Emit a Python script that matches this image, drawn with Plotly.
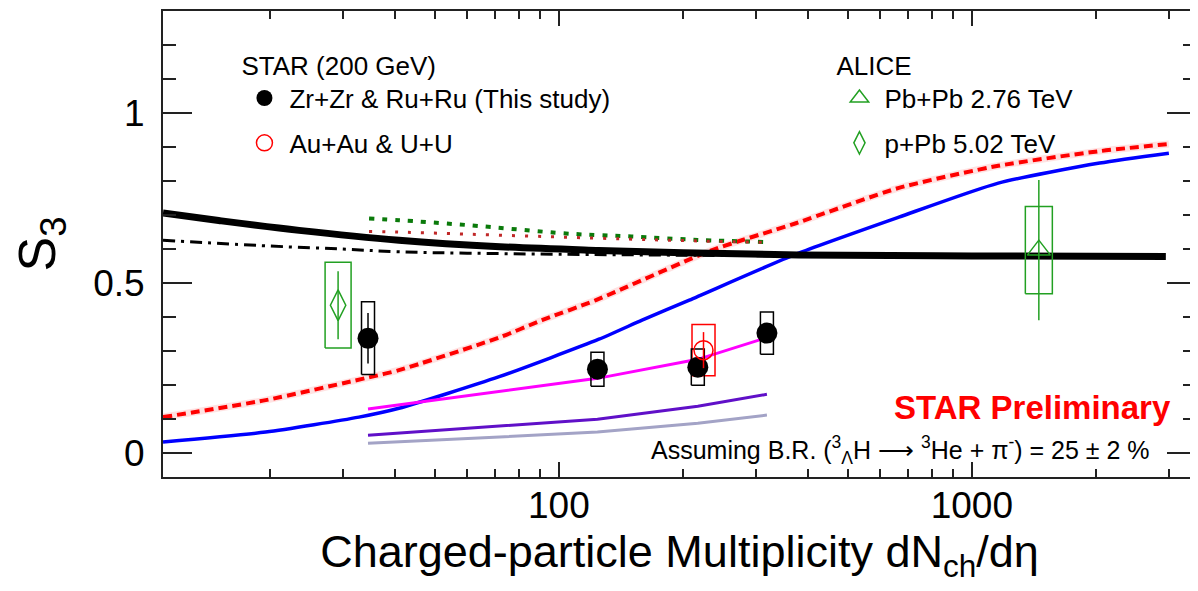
import numpy as np
import plotly.graph_objects as go

# ---------------- data ----------------
# STAR Zr+Zr & Ru+Ru (this study)
zr_x = [34.5, 124, 217, 319]
zr_y = [0.338, 0.247, 0.253, 0.353]
zr_stat = [0.074, 0.02, 0.02, 0.02]
zr_sys = [0.107, 0.050, 0.053, 0.062]

# STAR Au+Au & U+U
au_x = [224]
au_y = [0.303]
au_stat = [0.053]
au_sys = [0.075]

# ALICE Pb+Pb 2.76 TeV
pb_x = [1453]
pb_y = [0.597]
pb_stat = [0.206]
pb_sys = [0.128]

# ALICE p+Pb 5.02 TeV
ppb_x = [29.2]
ppb_y = [0.435]
ppb_stat = [0.100]
ppb_sys = [0.126]

# model curves
thick_x = [11, 15, 23.5, 41, 72, 125, 200, 381, 1000, 2950]
thick_y = [0.706, 0.684, 0.655, 0.626, 0.607, 0.596, 0.589, 0.583, 0.580, 0.578]

dashdot_x = [11, 20, 30, 41, 60, 100, 200, 400]
dashdot_y = [0.626, 0.609, 0.600, 0.592, 0.588, 0.585, 0.582, 0.580]

green_x = [34.7, 41, 59.5, 104, 125, 150, 217, 317]
green_y = [0.690, 0.685, 0.671, 0.646, 0.641, 0.637, 0.627, 0.621]

reddot_x = [34.7, 41, 125, 217, 317]
reddot_y = [0.652, 0.650, 0.632, 0.624, 0.620]

reddash_x = [11, 19.5, 34.7, 41, 71.7, 91, 123, 235, 375, 666, 1159, 2040, 3000]
reddash_y = [0.106, 0.156, 0.223, 0.244, 0.340, 0.391, 0.450, 0.597, 0.676, 0.780, 0.845, 0.888, 0.909]

blue_x = [11, 19.5, 32.8, 41, 71.7, 125, 159, 207, 375, 666, 1159, 2040, 3000]
blue_y = [0.033, 0.062, 0.106, 0.132, 0.225, 0.335, 0.391, 0.450, 0.585, 0.694, 0.794, 0.853, 0.882]

mag_x = [34.5, 124, 217, 319]
mag_y = [0.130, 0.220, 0.276, 0.340]

purple_x = [34.5, 124, 217, 319]
purple_y = [0.053, 0.100, 0.138, 0.173]

lav_x = [34.5, 124, 217, 319]
lav_y = [0.029, 0.062, 0.088, 0.112]

x_major = [100, 1000]
x_major_text = ["100", "1000"]
x_minor = [20, 30, 40, 50, 60, 70, 80, 90, 200, 300, 400, 500, 600, 700, 800, 900, 2000, 3000]
y_major = [0, 0.5, 1]
y_major_text = ["0", "0.5", "1"]

FONT = "Arial, Liberation Sans, Helvetica, sans-serif"
GREEN = "#22a022"

fig = go.Figure()

# ---------------- curves ----------------
fig.add_trace(go.Scatter(x=lav_x, y=lav_y, mode="lines", line=dict(color="#a3a3c6", width=3), showlegend=False))
fig.add_trace(go.Scatter(x=purple_x, y=purple_y, mode="lines", line=dict(color="#6010c8", width=3), showlegend=False))
fig.add_trace(go.Scatter(x=reddash_x, y=reddash_y, mode="lines", line=dict(color="rgba(255,140,140,0.25)", width=7, shape="spline", smoothing=0.6), showlegend=False))
fig.add_trace(go.Scatter(x=reddash_x, y=reddash_y, mode="lines", line=dict(color="#ff0000", width=4, dash="9px,5px", shape="spline", smoothing=0.6), showlegend=False))
fig.add_trace(go.Scatter(x=blue_x, y=blue_y, mode="lines", line=dict(color="#0000ff", width=3.5, shape="spline", smoothing=0.6), showlegend=False))
fig.add_trace(go.Scatter(x=dashdot_x, y=dashdot_y, mode="lines", line=dict(color="black", width=3, dash="12px,6px,3px,6px", shape="spline"), showlegend=False))
fig.add_trace(go.Scatter(x=thick_x, y=thick_y, mode="lines", line=dict(color="black", width=7, shape="spline"), showlegend=False))
fig.add_trace(go.Scatter(x=green_x, y=green_y, mode="lines", line=dict(color="#0a7a0a", width=4, dash="5px,8px", shape="spline"), showlegend=False))
fig.add_trace(go.Scatter(x=reddot_x, y=reddot_y, mode="lines", line=dict(color="#c02828", width=3, dash="3px,10px", shape="spline"), showlegend=False))
fig.add_trace(go.Scatter(x=mag_x, y=mag_y, mode="lines", line=dict(color="#ff00ff", width=3), showlegend=False))


# ---------------- systematic boxes ----------------
def boxes(xs, ys, sys, halfpx, color, width):
    f = 10 ** (halfpx / 413.0)
    bx, by = [], []
    for x, y, s in zip(xs, ys, sys):
        x0, x1 = x / f, x * f
        bx += [x0, x1, x1, x0, x0, None]
        by += [y - s, y - s, y + s, y + s, y - s, None]
    return go.Scatter(x=bx, y=by, mode="lines", line=dict(color=color, width=width),
                      showlegend=False, hoverinfo="skip")


fig.add_trace(boxes(ppb_x, ppb_y, ppb_sys, 13, GREEN, 1.5))
fig.add_trace(boxes(pb_x, pb_y, pb_sys, 13.5, GREEN, 1.5))
fig.add_trace(boxes(au_x, au_y, au_sys, 11.5, "#ff0000", 1.5))
fig.add_trace(boxes(zr_x, zr_y, zr_sys, 6.5, "black", 1.5))

# ---------------- data points ----------------
fig.add_trace(go.Scatter(
    x=zr_x, y=zr_y, mode="markers", name="Zr+Zr & Ru+Ru (This study)",
    marker=dict(symbol="circle", size=21, color="black"),
    error_y=dict(type="data", array=zr_stat, color="black", thickness=1.5, width=0),
    legend="legend", legendgroup="a"))
fig.add_trace(go.Scatter(
    x=au_x, y=au_y, mode="markers", name="Au+Au & U+U",
    marker=dict(symbol="circle-open", size=19, color="#ff0000", line=dict(width=1.5)),
    error_y=dict(type="data", array=au_stat, color="#ff0000", thickness=1.5, width=0),
    legend="legend", legendgroup="b"))
fig.add_trace(go.Scatter(
    x=pb_x, y=pb_y, mode="markers", name="Pb+Pb 2.76 TeV",
    marker=dict(symbol="triangle-up-open", size=20, color=GREEN, line=dict(width=1.5)),
    error_y=dict(type="data", array=pb_stat, color=GREEN, thickness=1.5, width=0),
    legend="legend2", legendgroup="c"))
fig.add_trace(go.Scatter(
    x=ppb_x, y=ppb_y, mode="markers", name="p+Pb 5.02 TeV",
    marker=dict(symbol="diamond-tall-open", size=22, color=GREEN, line=dict(width=1.5)),
    error_y=dict(type="data", array=ppb_stat, color=GREEN, thickness=1.5, width=0),
    legend="legend2", legendgroup="d"))

# ---------------- layout ----------------
# the page body adds an 8px offset, so the figure is 8px smaller and margins shifted
fig.update_layout(
    width=1190, height=583,
    margin=dict(l=155, r=2, t=3, b=114, autoexpand=False),
    paper_bgcolor="white", plot_bgcolor="white",
    font=dict(family=FONT, color="black"),
    xaxis=dict(
        type="log", range=[np.log10(11), np.log10(3490)], automargin=False,
        tickvals=x_major, ticktext=x_major_text,
        ticks="inside", ticklen=15, tickwidth=2, tickcolor="#222",
        showline=True, linewidth=2, linecolor="#222", mirror="allticks",
        showgrid=False, zeroline=False,
        tickfont=dict(size=37, family=FONT), ticklabelstandoff=-5,
        minor=dict(tickvals=x_minor, ticks="inside", ticklen=8, tickwidth=2, tickcolor="#222", showgrid=False),
        title=dict(text="Charged-particle Multiplicity dN<sub>ch</sub>/dη",
                   font=dict(size=45, family=FONT), standoff=0),
    ),
    yaxis=dict(
        range=[-0.07, 1.3], automargin=False,
        tickvals=y_major, ticktext=y_major_text,
        ticks="inside", ticklen=29, tickwidth=2, tickcolor="#222",
        showline=True, linewidth=2, linecolor="#222", mirror="allticks",
        showgrid=False, zeroline=False,
        tickfont=dict(size=37, family=FONT), ticklabelstandoff=9,
        minor=dict(dtick=0.1, tick0=0, ticks="inside", ticklen=13, tickwidth=2, tickcolor="#222", showgrid=False),
        title=dict(text="S<sub>3</sub>", font=dict(size=52, family=FONT), standoff=22),
    ),
    legend=dict(
        title=dict(text="STAR (200 GeV)", font=dict(size=26, family=FONT)),
        x=0.074, y=0.936, xanchor="left", yanchor="top",
        font=dict(size=26, family=FONT), bgcolor="rgba(0,0,0,0)",
        tracegroupgap=8, traceorder="grouped", itemwidth=40,
    ),
    legend2=dict(
        title=dict(text="ALICE", font=dict(size=26, family=FONT)),
        x=0.650, y=0.936, xanchor="left", yanchor="top",
        font=dict(size=26, family=FONT), bgcolor="rgba(0,0,0,0)",
        tracegroupgap=8, traceorder="grouped", itemwidth=40,
    ),
    annotations=[
        dict(text="<b>STAR Preliminary</b>", xref="paper", yref="paper", x=0.978, y=0.150,
             xanchor="right", yanchor="middle", showarrow=False,
             font=dict(size=33, color="#ff0000", family=FONT)),
        dict(text="Assuming B.R. (<sup>3</sup><sub>Λ</sub>H ⟶ <sup>3</sup>He + π<sup>-</sup>) = 25 ± 2 %",
             xref="paper", yref="paper", x=0.957, y=0.058,
             xanchor="right", yanchor="middle", showarrow=False,
             font=dict(size=25, color="black", family=FONT)),
    ],
)

fig.write_html("out.html")
